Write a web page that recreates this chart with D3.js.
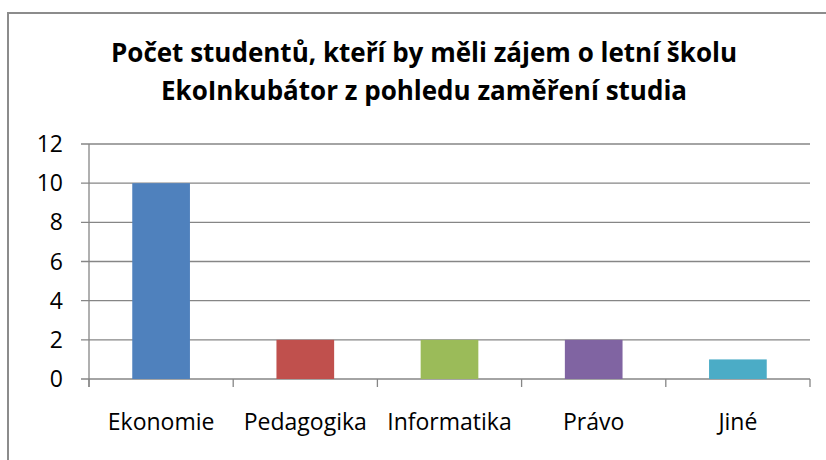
<!DOCTYPE html>
<html>
<head>
<meta charset="utf-8">
<script src="https://cdn.jsdelivr.net/npm/d3@7"></script>
<style>
  body { margin: 0; background: #fff; }
  svg text { font-family: "Open Sans", "Noto Sans", sans-serif; fill: #000; }
</style>
</head>
<body>
<div id="chart"></div>
<script>
// chart data
const titleLines = ["Počet studentů, kteří by měli zájem o letní školu", "EkoInkubátor z pohledu zaměření studia"];
const categories = ["Ekonomie", "Pedagogika", "Informatika", "Právo", "Jiné"];
const values = [10, 2, 2, 2, 1];
const colors = ["#4F81BD", "#C0504D", "#9BBB59", "#8064A2", "#4BACC6"];
const yTicks = [0, 2, 4, 6, 8, 10, 12];

const W = 826, H = 460;
const plot = { left: 89, right: 810, top: 144, bottom: 379 };

const svg = d3.select("#chart").append("svg")
  .attr("width", W)
  .attr("height", H);

// outer frame (cut off on the right and bottom)
svg.append("path")
  .attr("d", `M8,${H + 5} L8,13 L${W + 5},13`)
  .attr("fill", "none")
  .attr("stroke", "#8c8c8c")
  .attr("stroke-width", 2);

// title
svg.append("text")
  .attr("text-anchor", "middle")
  .attr("font-weight", "bold")
  .attr("font-size", 26)
  .selectAll("tspan")
  .data(titleLines)
  .enter()
  .append("tspan")
  .attr("x", 424)
  .attr("y", (d, i) => 62 + i * 38)
  .text(d => d);

const x = d3.scaleBand()
  .domain(categories)
  .range([plot.left, plot.right])
  .paddingInner(0.6)
  .paddingOuter(0.3);

const y = d3.scaleLinear()
  .domain([0, 12])
  .range([plot.bottom, plot.top]);

// gridlines
svg.append("g")
  .selectAll("line")
  .data(yTicks)
  .enter()
  .append("line")
  .attr("x1", plot.left - 8)
  .attr("x2", plot.right)
  .attr("y1", d => y(d))
  .attr("y2", d => y(d))
  .attr("stroke", "#868686")
  .attr("stroke-width", 1.3);

// y axis line
svg.append("line")
  .attr("x1", plot.left).attr("x2", plot.left)
  .attr("y1", plot.top).attr("y2", plot.bottom + 8)
  .attr("stroke", "#868686")
  .attr("stroke-width", 1.3);

// y labels
svg.append("g")
  .selectAll("text")
  .data(yTicks)
  .enter()
  .append("text")
  .attr("x", 63)
  .attr("y", d => y(d))
  .attr("dy", "0.35em")
  .attr("text-anchor", "end")
  .attr("font-size", 23)
  .text(d => d);

// category boundary ticks
svg.append("g")
  .selectAll("line")
  .data(d3.range(categories.length + 1))
  .enter()
  .append("line")
  .attr("x1", i => plot.left + i * (plot.right - plot.left) / categories.length)
  .attr("x2", i => plot.left + i * (plot.right - plot.left) / categories.length)
  .attr("y1", plot.bottom)
  .attr("y2", plot.bottom + 8)
  .attr("stroke", "#868686")
  .attr("stroke-width", 1.3);

// bars
svg.append("g")
  .selectAll("rect")
  .data(values)
  .enter()
  .append("rect")
  .attr("x", (d, i) => x(categories[i]))
  .attr("width", x.bandwidth())
  .attr("y", d => y(d))
  .attr("height", d => y(0) - y(d))
  .attr("fill", (d, i) => colors[i]);

// category labels
svg.append("g")
  .selectAll("text")
  .data(categories)
  .enter()
  .append("text")
  .attr("x", d => x(d) + x.bandwidth() / 2)
  .attr("y", 430)
  .attr("text-anchor", "middle")
  .attr("font-size", 23)
  .text(d => d);
</script>
</body>
</html>
